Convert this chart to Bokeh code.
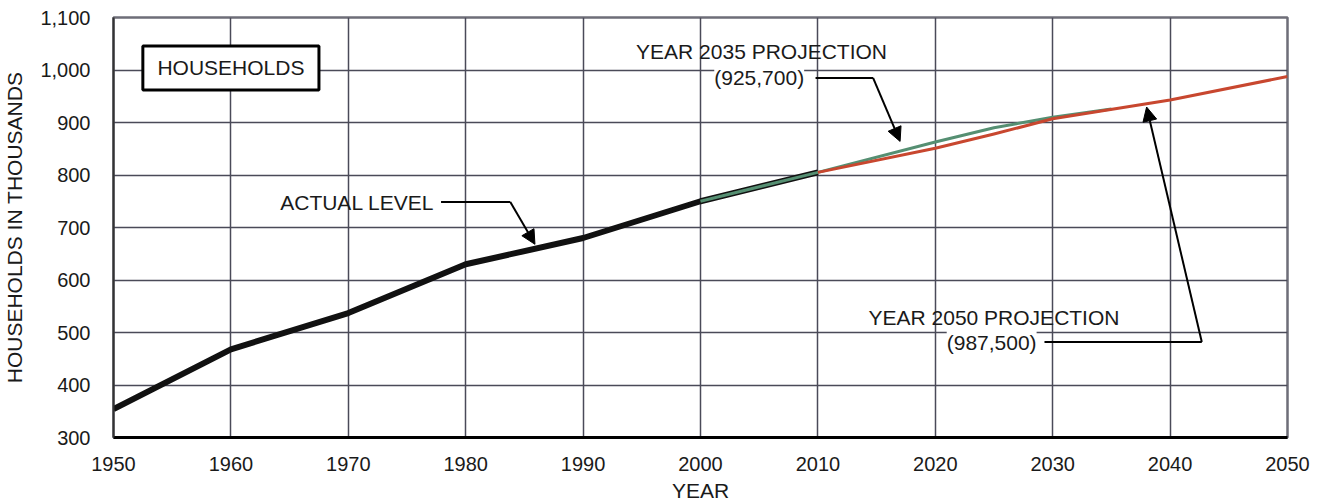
from bokeh.plotting import figure
from bokeh.models import Range1d, FixedTicker, Label, Arrow, NormalHead
from bokeh.embed import file_html
from bokeh.resources import INLINE

# ---- data ----
actual_years = [1950, 1960, 1970, 1980, 1990, 2000, 2010]
actual_values = [354, 468, 537, 630, 680, 750, 805]

proj2035_years = [2000, 2010, 2020, 2025, 2030, 2035]
proj2035_values = [750, 805, 863, 890, 910, 925.7]

proj2050_years = [2010, 2020, 2025, 2030, 2040, 2050]
proj2050_values = [805, 851, 878, 907, 943, 987.5]

x_ticks = [1950, 1960, 1970, 1980, 1990, 2000, 2010, 2020, 2030, 2040, 2050]
y_ticks = [300, 400, 500, 600, 700, 800, 900, 1000, 1100]
y_tick_labels = ["300", "400", "500", "600", "700", "800", "900", "1,000", "1,100"]

FONT = "Liberation Sans"
TXT = "#1a1a1a"

p = figure(width=1328, height=504,
           x_range=Range1d(1950, 2050), y_range=Range1d(300, 1100),
           output_backend="svg", toolbar_location=None,
           min_border_left=108, min_border_right=41,
           min_border_top=17, min_border_bottom=66)

p.background_fill_color = "white"
p.border_fill_color = "white"
p.outline_line_color = "#6e6e78"
p.outline_line_width = 2.5

p.xaxis.ticker = FixedTicker(ticks=x_ticks)
p.yaxis.ticker = FixedTicker(ticks=y_ticks)
p.yaxis.major_label_overrides = {t: l for t, l in zip(y_ticks, y_tick_labels)}
p.xgrid.ticker = FixedTicker(ticks=x_ticks)
p.ygrid.ticker = FixedTicker(ticks=y_ticks)

for g in (p.xgrid, p.ygrid):
    g.grid_line_color = "#4a4a58"
    g.grid_line_width = 1.5

for ax in (p.xaxis, p.yaxis):
    ax.major_tick_line_color = None
    ax.minor_tick_line_color = None
    ax.major_label_text_font = FONT
    ax.major_label_text_font_size = "20px"
    ax.major_label_text_color = TXT
    ax.axis_label_text_font = FONT
    ax.axis_label_text_font_size = "21px"
    ax.axis_label_text_font_style = "normal"
    ax.axis_label_text_color = TXT

p.xaxis.axis_label = "YEAR"
p.yaxis.axis_label = "HOUSEHOLDS IN THOUSANDS"
p.xaxis.axis_line_color = "black"
p.xaxis.axis_line_width = 3
p.yaxis.axis_line_color = "#333333"
p.yaxis.axis_line_width = 2
p.xaxis.major_label_standoff = 13
p.xaxis.axis_label_standoff = 5
p.yaxis.major_label_standoff = 17
p.yaxis.axis_label_standoff = 11

# ---- series ----
p.line(actual_years, actual_values, line_width=6, line_color="#111111",
       line_join="round")
p.line(proj2035_years, proj2035_values, line_width=3, line_color="#558f72",
       line_join="round")
p.line(proj2050_years, proj2050_values, line_width=3, line_color="#c8472f",
       line_join="round")

# ---- HOUSEHOLDS box ----
p.quad(left=1952.5, right=1967.5, top=1045.7, bottom=962,
       fill_color="white", line_color="black", line_width=3)
p.add_layout(Label(x=1960, y=1004, text="HOUSEHOLDS", text_align="center",
                   text_baseline="middle", text_font=FONT,
                   text_font_size="21px", text_color=TXT))

def note(x, y, text, align="center", bg=None):
    lab = Label(x=x, y=y, text=text, text_align=align, text_baseline="middle",
                text_font=FONT, text_font_size="21px", text_color=TXT)
    if bg:
        lab.background_fill_color = bg
    p.add_layout(lab)

def leader(x0, x1, y, xt, yt):
    p.line([x0, x1], [y, y], line_color="black", line_width=2)
    p.add_layout(Arrow(x_start=x1, y_start=y, x_end=xt, y_end=yt,
                       line_color="black", line_width=2,
                       end=NormalHead(size=14, fill_color="black",
                                      line_color="black")))

# ACTUAL LEVEL
note(1964.2, 746.7, "ACTUAL LEVEL", align="left")
leader(1977.9, 1983.8, 748.6, 1985.9, 668)

# YEAR 2035 PROJECTION
note(2005.2, 1034.3, "YEAR 2035 PROJECTION")
note(2005.0, 984.8, "(925,700)", bg="white")
leader(2009.8, 2014.7, 984.8, 2017.0, 864)

# YEAR 2050 PROJECTION
note(2025.0, 529.5, "YEAR 2050 PROJECTION")
note(2024.8, 481.9, "(987,500)", bg="white")
leader(2029.3, 2042.7, 481.9, 2038.0, 929.5)

open("out.html", "w").write(file_html(p, INLINE))
